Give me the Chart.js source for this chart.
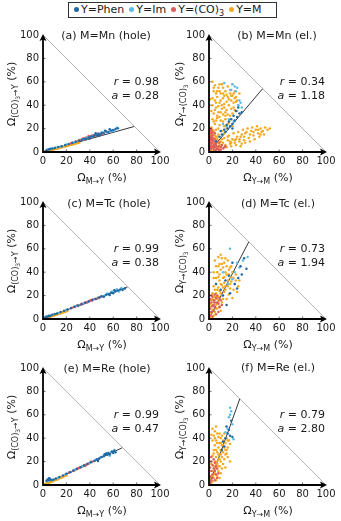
<!DOCTYPE html>
<html>
<head>
<meta charset="utf-8">
<script src="https://cdn.jsdelivr.net/npm/chart.js@4.4.1/dist/chart.umd.min.js"></script>
<style>
	body { margin: 0; background: #fff; width: 341px; height: 521px; position: relative; overflow: hidden; font-family: "DejaVu Sans", sans-serif; color: #1a1a1a; }
	canvas { position: absolute; }
	.lbl { position: absolute; white-space: nowrap; font-size: 11px; line-height: 1; transform: translate(-50%, -50%); }
	.rlbl { position: absolute; white-space: nowrap; font-size: 11px; line-height: 1; transform: translate(-100%, -50%); }
	.ylbl { position: absolute; white-space: nowrap; font-size: 11px; line-height: 1; transform: translate(-50%, -50%) rotate(-90deg); }
	.sub { font-size: 8px; position: relative; top: 3px; line-height: 0; }
	.sub2 { font-size: 6px; position: relative; top: 2px; line-height: 0; }
	.lsub { font-size: 8px; position: relative; top: 3px; line-height: 0; }
	#legend { position: absolute; left: 68px; top: 2px; width: 207px; height: 14px; border: 1px solid #333; display: flex; align-items: center; font-size: 11px; line-height: 14px; }
	#legend .dot { display: inline-block; width: 5px; height: 5px; border-radius: 50%; margin: 0 2px 1px 5px; vertical-align: middle; }
</style>
</head>
<body>
<div id="legend"></div>
<script>
"use strict";

var seriesNames = ["Y=Phen", "Y=Im", "Y=(CO)<span class='lsub'>3</span>", "Y=M"];
var seriesColors = ["#1f6aa5", "#5bbbea", "#e05c5c", "#f5a81c"];

var panelTitles = ["(a) M=Mn (hole)", "(b) M=Mn (el.)", "(c) M=Tc (hole)", "(d) M=Tc (el.)", "(e) M=Re (hole)", "(f) M=Re (el.)"];
var rValues = ["0.98", "0.34", "0.99", "0.73", "0.99", "0.79"];
var aValues = [0.28, 1.18, 0.38, 1.94, 0.47, 2.80];
var tickValues = [0, 20, 40, 60, 80, 100];

// (a) Mn hole
var mnHolePhen = [[3,1.6],[5,2.2],[6,2.6],[8,3],[10,3.5],[13,4.2],[16,5],[19,6],[22,6.8],[25,7.8],[28,8.8],[31,9.6],[33,10.2],[35,11.4],[37,11.2],[39,12.4],[41,13.2],[43,13],[44,14.6],[46,14.2],[47,15.6],[49,15],[50,16.4],[52,16],[54,17.6],[56,17],[58,18.4],[60,18.8],[62,19.6],[64,20.2],[45,16],[53,18.2],[57,19.4],[40,11.6],[48,13.8]];
var mnHoleIm = [[4,2.4],[7,3],[11,3.8],[15,4.8],[20,6.4],[27,8.4],[34,10.8],[42,12.8],[46,15.2],[51,16.8],[55,16.6],[59,17.8],[63,20.8],[38,12.6],[61,18.2]];
var mnHoleCO = [[24,7.4],[26,8],[28,9],[30,9.4],[31,10.2],[33,10.6],[34,11.6],[36,11.8],[37,12.4],[38,11.4],[40,13],[41,12.6],[42,14],[43,13.6],[44,14.2],[45,13.4],[46,15],[47,14.8],[48,15.6],[50,15.2],[35,10.6],[39,13.6]];
var mnHoleM = [[0.5,0.1],[1,0.3],[1.5,0.4],[2,0.5],[2.5,0.6],[3,0.7],[3.5,0.9],[4,1],[5,1.2],[5.5,1.4],[6,1.5],[7,1.8],[7.5,1.9],[8,2],[9,2.2],[10,2.5],[10.5,2.7],[11,2.8],[12,3],[13,3.3],[14,3.5],[15,3.9],[16,4],[17,4.3],[18,4.6],[19,4.8],[20,5.1],[21,5.3],[22,5.6],[23,5.9],[24,6.1],[25,6.4],[26,6.7],[27,7],[28,7.2],[29,7.5],[30,7.8],[31,8.1],[12.5,3.5],[16.5,4.5],[20.5,5.5],[24.5,6.6]];

// (b) Mn electron
var mnElPhen = [[6,9],[9,13],[11,15],[14,17],[16,20],[18,22],[20,24],[22,27],[24,30],[26,33],[23,35],[25,38],[21,31],[19,28],[17,26],[28,34],[15,23],[13,19],[20,20],[10,18]];
var mnElIm = [[20,58],[22,56],[24,55],[19,53],[23,52],[26,44],[27,42],[25,40],[28,38],[17,28],[21,26],[15,22],[13,59],[12,24]];
var mnElCO = [[0.5,1],[1,3],[1.5,5],[2,7],[1,9],[2.5,11],[1,12],[3,14],[2,16],[1,18],[4,2],[3,5],[5,4],[4,9],[6,7],[3,12],[5,11],[7,3],[8,5],[9,2],[10,4],[12,3],[14,5],[11,6],[6,2],[2,19],[0.5,15],[1.5,20],[3,17],[7,9],[13,4],[5,16],[9,8],[2,3],[4,6],
	[1,4],[2,8],[3,10],[1,11],[2,13],[4,4],[6,5],[8,2],[10,2],[5,7]];
var mnElM = [[3,60],[5,57],[8,55],[4,52],[10,50],[14,52],[18,50],[20,48],[22,46],[19,44],[16,47],[12,46],[7,47],[5,44],[9,42],[13,41],[17,40],[21,42],[24,44],[25,40],[3,40],[6,38],[11,37],[15,36],[19,37],[8,34],[12,32],[4,33],[16,32],[20,33],[3,28],[7,29],[10,27],[14,28],[18,28],[5,24],[9,23],[13,22],[2,21],[6,19],[11,18],[15,20],[4,16],[8,15],[2,14],[20,58],[12,55],[16,56],[22,52],[26,50],[6,50],[10,44],[24,35],[1,45],[2,35],[14,34],[17,25],[7,31],[23,47],[18,53],[11,58],[9,52],[13,48],[15,43],[21,38],
	[3,46],[4,55],[7,52],[9,58],[12,50],[15,49],[17,45],[19,48],[21,50],[23,43],[11,40],[13,38],[8,39],[6,42],[5,36],[10,34],[14,31],[18,31],[22,36],[9,30],[6,27],[12,26],[16,24],[20,22],[4,26],[8,20],[13,16],[3,19],[7,13],[11,11],[16,13],
	[10,5],[14,6],[18,7],[22,8],[26,9],[30,10],[34,12],[38,14],[42,16],[46,18],[50,19],[44,20],[40,19],[36,18],[32,17],[28,15],[24,13],[20,11],[16,10],[12,8],[15,4],[19,5],[23,6],[27,5],[31,8],[35,9],[39,11],[43,13],[47,15],[33,20],[29,19],[25,17],[21,16],[17,14],[13,12],[37,21],[41,22],[48,21],[52,20],[45,17],[30,13],[26,11],[22,10],[18,9],
	[35,15],[38,17],[42,19],[31,16],[27,13],[23,11],[19,8],[44,15],[28,7],
	[1,2],[2,4],[1,6],[3,8],[2,10],[4,12],[1,13],[3,3],[5,5],[4,7],[6,9],[2,1],[5,2],[7,4],[6,6],[8,8],[3,15],[5,14],[1,17],[7,11],[9,6],[8,3],[10,9],[6,13],[4,18]];

// (c) Tc hole
var tcHolePhen = [[2,1.4],[3,2.2],[4,2],[5,2.8],[6,2.6],[8,3.6],[10,4.2],[12,4.8],[15,6],[18,7],[21,8.2],[24,9.4],[27,10.4],[30,11.6],[33,12.6],[36,13.8],[39,15],[42,16.2],[45,17],[48,18.4],[50,19.4],[52,19],[54,20.8],[56,21.2],[58,22.4],[60,22],[62,23.6],[64,24.4],[66,25.2],[68,24.8],[70,26],[61,24.6],[57,20.6]];
var tcHoleIm = [[3,1.8],[7,3.4],[13,5.2],[20,7.8],[28,11],[35,13.4],[43,16.6],[49,18.8],[55,21.8],[59,23.4],[63,25.4],[67,26.6],[65,23.4],[53,20]];
var tcHoleCO = [[24,9.2],[26,10],[28,10.8],[30,11.2],[32,12.2],[33,13],[35,13.2],[36,14],[38,14.4],[39,15.2],[40,15.6],[42,15.8],[43,16.8],[44,17],[46,17.4],[47,18.2],[48,18],[50,19],[34,12.8],[41,16.2],[37,13.8],[29,11.6]];
var tcHoleM = [[0.5,0.2],[1,0.3],[1.5,0.5],[2,0.7],[2.5,0.8],[3,1],[3.5,1.1],[4,1.3],[4.5,1.5],[5,1.6],[6,2],[6.5,2.1],[7,2.3],[8,2.6],[8.5,2.8],[9,3],[10,3.3],[11,3.6],[12,4],[13,4.3],[14,4.6],[15,5],[16,5.3],[17,5.6],[18,6],[19,6.3],[20,6.6],[21,7],[11.5,3.9],[14.5,4.9]];

// (d) Tc electron
var tcElPhen = [[20,48],[27,45],[32,43],[30,52],[25,35],[18,22],[12,20],[15,12],[22,30],[28,38],[10,25],[17,37],[24,26],[6,30],[14,33]];
var tcElIm = [[18,60],[22,40],[26,44],[29,50],[16,30],[33,53],[24,48],[20,34],[12,40]];
var tcElCO = [[1,3],[2,6],[1,9],[3,11],[2,14],[4,16],[3,19],[5,21],[6,18],[7,14],[5,10],[4,7],[6,4],[8,6],[9,10],[8,13],[10,16],[11,12],[1,17],[2,20],[3,2],[5,14],[7,20],[9,18],[4,12]];
var tcElM = [[5,50],[8,53],[11,52],[6,45],[9,47],[13,48],[15,45],[18,44],[7,40],[10,42],[14,40],[17,38],[20,40],[23,38],[4,35],[8,36],[12,35],[16,33],[19,32],[22,30],[25,28],[6,30],[10,30],[14,28],[18,26],[21,25],[5,25],[9,24],[13,23],[17,21],[11,20],[7,19],[15,17],[20,18],[3,22],[12,44],[16,50],[9,38],[13,31],[26,33],[24,23],[8,27],[19,36],[4,28],[10,55],
	[4,40],[6,35],[8,45],[11,47],[13,36],[15,38],[12,27],[9,33],[7,25],[11,29],[14,25],[16,28],[18,30],[5,16],[8,19],[10,22],[3,12],[6,9],[12,17],[19,45],[21,35],[14,52],[17,42],[23,33],
	[1,2],[2,5],[3,8],[2,11],[4,14],[3,17],[5,19],[6,12],[7,9],[5,6],[4,3],[8,15],[9,11],[10,7],[6,22],[1,13],[3,20],[7,17],[11,14],[2,16]];

// (e) Re hole
var reHolePhen = [[3,3.6],[4,4.8],[5,4.2],[6,5.4],[5,5.8],[7,4.2],[9,4.8],[11,5.6],[14,6.8],[17,8.2],[20,9.6],[23,11],[26,12.4],[29,13.8],[32,15.2],[35,16.6],[38,18],[41,19.4],[44,20.8],[46,22],[48,22.6],[50,24],[52,24.6],[53,26.2],[55,25.8],[56,27.4],[57,26.2],[59,28.6],[60,27.4],[61,29.2],[62,28],[54,27],[47,20.6]];
var reHoleIm = [[4,3.2],[8,4],[13,6.2],[19,9],[27,12.8],[34,16],[40,19],[45,21.4],[49,23.6],[52,25.8],[55,27.2],[58,28.2],[61,30],[57,25]];
var reHoleCO = [[20,9.4],[22,10.4],[24,11.2],[26,12.2],[28,13.2],[29,13.6],[30,14.2],[31,14.8],[32,15],[33,15.6],[34,16],[35,16.6],[36,17],[37,17.4],[38,18],[39,18.4],[40,18.8],[42,19.8],[44,20.6],[46,21.6],[48,22.4],[27,12.6],[36,16.2],[41,19.8]];
var reHoleM = [[0.5,0.2],[1,0.4],[1.5,0.6],[2,0.8],[2.5,1],[3,1.2],[3.5,1.4],[4,1.6],[4.5,1.8],[5,2],[6,2.4],[6.5,2.6],[7,2.8],[8,3.2],[8.5,3.4],[9,3.6],[10,4],[11,4.4],[12,4.8],[13,5.3],[14,5.7],[15,6.1],[16,6.5],[17,6.9],[18,7.4],[19,7.8],[20,8.2],[12.5,5],[15.5,6.3]];

// (f) Re electron
var reElPhen = [[12,37],[14,40],[16,44],[17,47],[15,50],[19,55],[13,33],[18,42],[20,41],[11,30]];
var reElIm = [[18,60],[19,63],[18,66],[17,58],[20,52],[16,48],[21,39],[14,45]];
var reElCO = [[1,2],[2,4],[1,7],[3,9],[2,12],[4,14],[3,17],[2,20],[4,22],[5,19],[6,16],[5,12],[6,9],[7,6],[5,4],[3,6],[8,10],[7,14],[1,15],[2,24]];
var reElM = [[3,48],[5,46],[7,44],[4,42],[8,41],[10,40],[12,38],[14,36],[6,38],[9,36],[11,34],[13,32],[15,30],[5,34],[8,32],[10,30],[12,28],[14,26],[16,24],[4,30],[7,28],[9,26],[11,24],[13,22],[6,24],[8,22],[10,20],[12,18],[5,20],[7,18],[9,16],[11,14],[4,16],[6,14],[8,12],[10,10],[3,12],[5,10],[7,8],[9,6],[2,8],[4,6],[6,4],[3,3],[2,2],[1,5],[15,40],[17,38],[18,35],[13,44],[16,32],[3,25],[2,18],[18,20],[14,15],[2,43],[6,50],[11,42],
	[3,38],[5,40],[7,36],[9,44],[4,27],[6,30],[8,26],[10,26],[7,20],[9,22],[6,18],[5,14],[4,9],[3,7],[8,16],[12,34],[10,36],[14,30],[16,38],[15,27]];

var panelData = [
	[mnHolePhen, mnHoleIm, mnHoleCO, mnHoleM],
	[mnElPhen, mnElIm, mnElCO, mnElM],
	[tcHolePhen, tcHoleIm, tcHoleCO, tcHoleM],
	[tcElPhen, tcElIm, tcElCO, tcElM],
	[reHolePhen, reHoleIm, reHoleCO, reHoleM],
	[reElPhen, reElIm, reElCO, reElM]
];

var holeYTitle = "Ω<span class='sub'>(CO)<span class='sub2'>3</span>→Y</span> (%)";
var holeXTitle = "Ω<span class='sub'>M→Y</span> (%)";
var elYTitle = "Ω<span class='sub'>Y→(CO)<span class='sub2'>3</span></span> (%)";
var elXTitle = "Ω<span class='sub'>Y→M</span> (%)";

var colLefts = [43, 209];
var rowTops = [35, 202, 368];
var titleCenters = [[106, 35], [277, 35], [109, 203], [278, 203], [107, 368], [278, 367]];
var plotSize = 117;

var arrowAxes = {
	id: "arrowAxes",
	afterDraw(chart) {
		var ctx = chart.ctx;
		var xs = chart.scales.x, ys = chart.scales.y;
		var x0 = xs.getPixelForValue(0), y0 = ys.getPixelForValue(0);
		var x1 = xs.getPixelForValue(100), y1 = ys.getPixelForValue(100);
		ctx.save();
		ctx.strokeStyle = "#000";
		ctx.fillStyle = "#000";
		ctx.lineWidth = 0.6;
		ctx.beginPath();
		tickValues.slice(1, -1).forEach((v) => {
			var px = xs.getPixelForValue(v), py = ys.getPixelForValue(v);
			ctx.moveTo(px, y0); ctx.lineTo(px, y0 - 2.5);
			ctx.moveTo(x0, py); ctx.lineTo(x0 + 2.5, py);
		});
		ctx.stroke();
		ctx.lineWidth = 1.8;
		ctx.beginPath();
		ctx.moveTo(x0 - 0.9, y0); ctx.lineTo(x1 - 4, y0);
		ctx.moveTo(x0, y0 + 0.9); ctx.lineTo(x0, y1 + 4);
		ctx.stroke();
		ctx.beginPath();
		ctx.moveTo(x1 + 1, y0); ctx.lineTo(x1 - 6, y0 - 3.5); ctx.lineTo(x1 - 4.5, y0); ctx.lineTo(x1 - 6, y0 + 3.5); ctx.closePath();
		ctx.moveTo(x0, y1 - 1); ctx.lineTo(x0 - 3.5, y1 + 6); ctx.lineTo(x0, y1 + 4.5); ctx.lineTo(x0 + 3.5, y1 + 6); ctx.closePath();
		ctx.fill();
		ctx.restore();
	}
};

function toPoints(pairs) {
	return pairs.map((p) => ({ x: p[0], y: p[1] }));
}

function addLabel(cls, html, left, top) {
	var d = document.createElement("div");
	d.className = cls;
	d.innerHTML = html;
	d.style.left = left + "px";
	d.style.top = top + "px";
	document.body.appendChild(d);
}

function getScaleOptions(isX) {
	return {
		type: "linear",
		min: 0,
		max: 100,
		grid: { display: false, drawTicks: false },
		border: { display: false },
		ticks: {
			stepSize: 20,
			padding: isX ? 3 : 4,
			maxRotation: 0,
			color: "#1a1a1a",
			font: { family: "DejaVu Sans", size: 10 }
		},
		afterFit: (s) => {
			if (isX) s.height = 18; else s.width = 32;
		}
	};
}

function makePanel(i) {
	var col = i % 2, row = Math.floor(i / 2);
	var left = colLefts[col], top = rowTops[row];
	var a = aValues[i];

	var canvas = document.createElement("canvas");
	canvas.width = 32 + plotSize + 14;
	canvas.height = 10 + plotSize + 18;
	canvas.style.left = (left - 32) + "px";
	canvas.style.top = (top - 10) + "px";
	document.body.appendChild(canvas);

	var datasets = [{
		data: [{ x: 0, y: 100 }, { x: 100, y: 0 }],
		showLine: true,
		borderColor: "#b3b3b3",
		borderWidth: 1,
		pointRadius: 0
	}];

	panelData[i].forEach((pairs, k) => {
		datasets.push({
			data: toPoints(pairs),
			pointRadius: 1.25,
			pointBorderWidth: 0,
			pointBackgroundColor: seriesColors[k],
			backgroundColor: seriesColors[k],
			borderColor: seriesColors[k]
		});
	});

	datasets.push({
		data: [{ x: 0, y: 0 }, { x: 100 / (1 + a), y: 100 * a / (1 + a) }],
		showLine: true,
		borderColor: "#000",
		borderWidth: 0.8,
		pointRadius: 0
	});

	new Chart(canvas.getContext("2d"), {
		type: "scatter",
		data: { datasets: datasets },
		options: {
			responsive: false,
			animation: false,
			layout: { padding: { left: 0, top: 10, right: 14, bottom: 0 } },
			plugins: { legend: { display: false }, tooltip: { enabled: false } },
			scales: { x: getScaleOptions(true), y: getScaleOptions(false) }
		},
		plugins: [arrowAxes]
	});

	var isHole = col === 0;
	addLabel("lbl", panelTitles[i], titleCenters[i][0], titleCenters[i][1]);
	addLabel("rlbl", "<i>r</i> = " + rValues[i], left + 116, top + 46);
	addLabel("rlbl", "<i>a</i> = " + a.toFixed(2), left + 116, top + 60);
	addLabel("ylbl", isHole ? holeYTitle : elYTitle, col === 0 ? 11 : 179, top + 59);
	addLabel("lbl", isHole ? holeXTitle : elXTitle, left + 59, top + 142);
}

var legend = document.getElementById("legend");
seriesNames.forEach((name, k) => {
	var item = document.createElement("span");
	item.innerHTML = "<span class='dot' style='background:" + seriesColors[k] + "'></span>" + name;
	legend.appendChild(item);
});

for (var i = 0; i < 6; i++) {
	makePanel(i);
}
</script>
</body>
</html>
